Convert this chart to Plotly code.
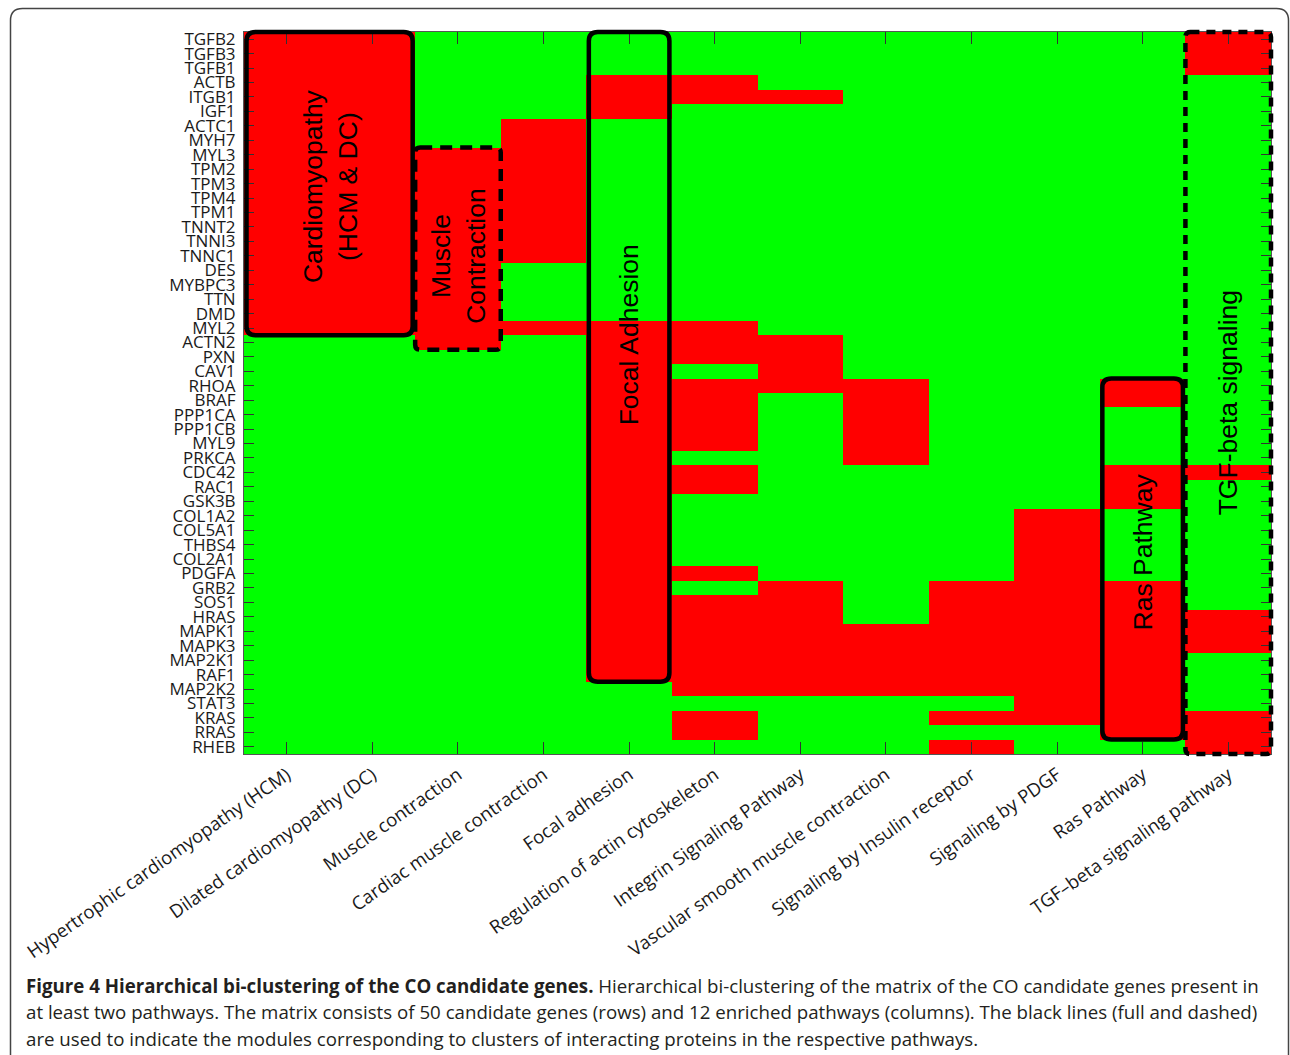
import plotly.graph_objects as go

# ---- data -------------------------------------------------------------
genes = ["TGFB2", "TGFB3", "TGFB1", "ACTB", "ITGB1", "IGF1", "ACTC1", "MYH7",
         "MYL3", "TPM2", "TPM3", "TPM4", "TPM1", "TNNT2", "TNNI3", "TNNC1",
         "DES", "MYBPC3", "TTN", "DMD", "MYL2", "ACTN2", "PXN", "CAV1", "RHOA",
         "BRAF", "PPP1CA", "PPP1CB", "MYL9", "PRKCA", "CDC42", "RAC1", "GSK3B",
         "COL1A2", "COL5A1", "THBS4", "COL2A1", "PDGFA", "GRB2", "SOS1", "HRAS",
         "MAPK1", "MAPK3", "MAP2K1", "RAF1", "MAP2K2", "STAT3", "KRAS", "RRAS",
         "RHEB"]

pathways = ["Hypertrophic cardiomyopathy (HCM)", "Dilated cardiomyopathy (DC)",
            "Muscle contraction", "Cardiac muscle contraction", "Focal adhesion",
            "Regulation of actin cytoskeleton", "Integrin Signaling Pathway",
            "Vascular smooth muscle contraction", "Signaling by Insulin receptor",
            "Signaling by PDGF", "Ras Pathway", "TGF\u2013beta signaling pathway"]

cardiomyopathy_genes = ["TGFB2", "TGFB3", "TGFB1", "ACTB", "ITGB1", "IGF1", "ACTC1",
                        "MYH7", "MYL3", "TPM2", "TPM3", "TPM4", "TPM1", "TNNT2",
                        "TNNI3", "TNNC1", "DES", "MYBPC3", "TTN", "DMD", "MYL2"]
hcm_genes = list(cardiomyopathy_genes)
dc_genes = list(cardiomyopathy_genes)
muscle_contraction_genes = ["MYL3", "TPM2", "TPM3", "TPM4", "TPM1", "TNNT2", "TNNI3",
                            "TNNC1", "DES", "MYBPC3", "TTN", "DMD", "MYL2", "ACTN2"]
cardiac_muscle_genes = ["ACTC1", "MYH7", "MYL3", "TPM2", "TPM3", "TPM4", "TPM1",
                        "TNNT2", "TNNI3", "TNNC1", "MYL2"]
focal_adhesion_genes = ["ACTB", "ITGB1", "IGF1", "MYL2", "ACTN2", "PXN", "CAV1",
                        "RHOA", "BRAF", "PPP1CA", "PPP1CB", "MYL9", "PRKCA", "CDC42",
                        "RAC1", "GSK3B", "COL1A2", "COL5A1", "THBS4", "COL2A1",
                        "PDGFA", "GRB2", "SOS1", "HRAS", "MAPK1", "MAPK3", "MAP2K1",
                        "RAF1"]
actin_cytoskeleton_genes = ["ACTB", "ITGB1", "MYL2", "ACTN2", "PXN", "RHOA", "BRAF",
                            "PPP1CA", "PPP1CB", "MYL9", "CDC42", "RAC1", "PDGFA",
                            "SOS1", "HRAS", "MAPK1", "MAPK3", "MAP2K1", "RAF1",
                            "MAP2K2", "KRAS", "RRAS"]
integrin_genes = ["ITGB1", "ACTN2", "PXN", "CAV1", "RHOA", "GRB2", "SOS1", "HRAS",
                  "MAPK1", "MAPK3", "MAP2K1", "RAF1", "MAP2K2"]
vascular_smooth_muscle_genes = ["RHOA", "BRAF", "PPP1CA", "PPP1CB", "MYL9", "PRKCA",
                                "MAPK1", "MAPK3", "MAP2K1", "RAF1", "MAP2K2"]
insulin_receptor_genes = ["GRB2", "SOS1", "HRAS", "MAPK1", "MAPK3", "MAP2K1", "RAF1",
                          "MAP2K2", "KRAS", "RHEB"]
pdgf_genes = ["COL1A2", "COL5A1", "THBS4", "COL2A1", "PDGFA", "GRB2", "SOS1", "HRAS",
              "MAPK1", "MAPK3", "MAP2K1", "RAF1", "MAP2K2", "STAT3", "KRAS"]
ras_genes = ["RHOA", "BRAF", "CDC42", "RAC1", "GSK3B", "GRB2", "SOS1", "HRAS",
             "MAPK1", "MAPK3", "MAP2K1", "RAF1", "MAP2K2", "STAT3", "KRAS", "RRAS"]
tgf_beta_genes = ["TGFB2", "TGFB3", "TGFB1", "CDC42", "HRAS", "MAPK1", "MAPK3",
                  "KRAS", "RRAS", "RHEB"]

pathway_members = [hcm_genes, dc_genes, muscle_contraction_genes, cardiac_muscle_genes,
                   focal_adhesion_genes, actin_cytoskeleton_genes, integrin_genes,
                   vascular_smooth_muscle_genes, insulin_receptor_genes, pdgf_genes,
                   ras_genes, tgf_beta_genes]

# Modules of interacting proteins: label, first/last pathway, first/last gene, dashed
modules = [
    ("Cardiomyopathy<br>(HCM & DC)", pathways[0], pathways[1], "TGFB2", "MYL2", False),
    ("Muscle<br>Contraction", pathways[2], pathways[2], "MYL3", "ACTN2", True),
    ("Focal Adhesion", pathways[4], pathways[4], "TGFB2", "RAF1", False),
    ("Ras Pathway", pathways[10], pathways[10], "RHOA", "RRAS", False),
    ("TGF-beta signaling", pathways[11], pathways[11], "TGFB2", "RHEB", True),
]

caption_lines = [
    "<b>Figure 4 Hierarchical bi-clustering of the CO candidate genes.</b> "
    "Hierarchical bi-clustering of the matrix of the CO candidate genes present in",
    "at least two pathways. The matrix consists of 50 candidate genes (rows) and 12 "
    "enriched pathways (columns). The black lines (full and dashed)",
    "are used to indicate the modules corresponding to clusters of interacting "
    "proteins in the respective pathways.",
]

# ---- layout geometry --------------------------------------------------
W, H = 1290, 1055
ML, MR, MT, MB = 244, 19, 32, 301
PW, PH = W - ML - MR, H - MT - MB
n_rows, n_cols = len(genes), len(pathways)


def to_paper_x(px):
    return (px - ML) / PW


def to_paper_y(py):
    return (H - MB - py) / PH


def data_x_to_paper(x):
    return (x + 0.5) / n_cols


def data_y_to_paper(y):
    return 1 - (y + 0.5) / n_rows


def rounded_path(x0, x1, y0, y1, rx, ry):
    """Rounded rectangle in paper coords (y0 top, y1 bottom, y0 > y1)."""
    return (f"M {x0 + rx},{y0} L {x1 - rx},{y0} Q {x1},{y0} {x1},{y0 - ry} "
            f"L {x1},{y1 + ry} Q {x1},{y1} {x1 - rx},{y1} L {x0 + rx},{y1} "
            f"Q {x0},{y1} {x0},{y1 + ry} L {x0},{y0 - ry} Q {x0},{y0} {x0 + rx},{y0} Z")


# ---- membership matrix ------------------------------------------------
z = [[1 if g in members else 0 for members in pathway_members] for g in genes]

fig = go.Figure(go.Heatmap(
    z=z, x=list(range(n_cols)), y=list(range(n_rows)),
    colorscale=[[0, "#00FF00"], [0.5, "#00FF00"], [0.5, "#FF0000"], [1, "#FF0000"]],
    zmin=0, zmax=1, showscale=False, hoverinfo="skip",
))

tick_font = dict(family="Open Sans, sans-serif", size=17, color="#1a1a1a")

fig.update_xaxes(
    range=[-0.5, n_cols - 0.5], tickvals=list(range(n_cols)), ticktext=pathways,
    tickangle=-35, ticks="inside", ticklen=12, tickwidth=1, tickcolor="#333",
    showline=True, linecolor="#555", linewidth=1, mirror="ticks",
    showgrid=False, zeroline=False, tickfont=dict(tick_font, size=18.5),
    ticklabelstandoff=2,
)
fig.update_yaxes(
    range=[n_rows - 0.5, -0.5], tickvals=list(range(n_rows)), ticktext=genes,
    ticks="inside", ticklen=10, tickwidth=1, tickcolor="#333",
    showline=True, linecolor="#555", linewidth=1, mirror="ticks",
    showgrid=False, zeroline=False, tickfont=tick_font, ticklabelstandoff=4,
)

# ---- module boxes and labels ------------------------------------------
label_rows = {"Cardiomyopathy<br>(HCM & DC)": 10.2, "Muscle<br>Contraction": 15.0,
              "Focal Adhesion": 20.5, "Ras Pathway": 35.5, "TGF-beta signaling": 25.2}
shapes = []
annotations = []
for label, p0, p1, g0, g1, dashed in modules:
    c0, c1 = pathways.index(p0), pathways.index(p1)
    r0, r1 = genes.index(g0), genes.index(g1)
    inset = 0 if dashed else 2.5
    x0 = data_x_to_paper(c0 - 0.5) + inset / PW
    x1 = data_x_to_paper(c1 + 0.5) - inset / PW
    y0 = data_y_to_paper(r0 - 0.5)
    y1 = data_y_to_paper(r1 + 0.5)
    rad = 5 if dashed else 9
    shapes.append(dict(
        type="path", xref="paper", yref="paper", layer="above",
        path=rounded_path(x0, x1, y0, y1, rad / PW, rad / PH),
        line=dict(color="black", width=4.5,
                  dash=("12px,8px" if c0 == 2 else "9px,7px") if dashed else "solid"),
    ))
    annotations.append(dict(
        x=(c0 + c1) / 2, y=label_rows[label], xref="x", yref="y", text=label,
        textangle=-90, showarrow=False, align="center",
        font=dict(family="Liberation Sans, Arial, sans-serif", size=26.5, color="black"),
    ))

# outer frame of the figure panel
fx0, fx1 = to_paper_x(10.5), to_paper_x(1288.5)
fy0, fy1 = to_paper_y(8.5), to_paper_y(1075)
shapes.append(dict(
    type="path", xref="paper", yref="paper", layer="below",
    path=rounded_path(fx0, fx1, fy0, fy1, 12 / PW, 12 / PH),
    line=dict(color="#444", width=1.5),
))

# caption
for i, line in enumerate(caption_lines):
    annotations.append(dict(
        x=to_paper_x(24), y=to_paper_y(985 + 26.5 * i), xref="paper", yref="paper",
        xanchor="left", yanchor="middle", showarrow=False, align="left", text=line,
        font=dict(family="Open Sans, sans-serif", size=18.7, color="#231f20"),
    ))

fig.update_layout(
    width=W, height=H, margin=dict(l=ML, r=MR, t=MT, b=MB, pad=0),
    paper_bgcolor="white", plot_bgcolor="white",
    shapes=shapes, annotations=annotations, showlegend=False,
)

fig.write_html("out.html")
